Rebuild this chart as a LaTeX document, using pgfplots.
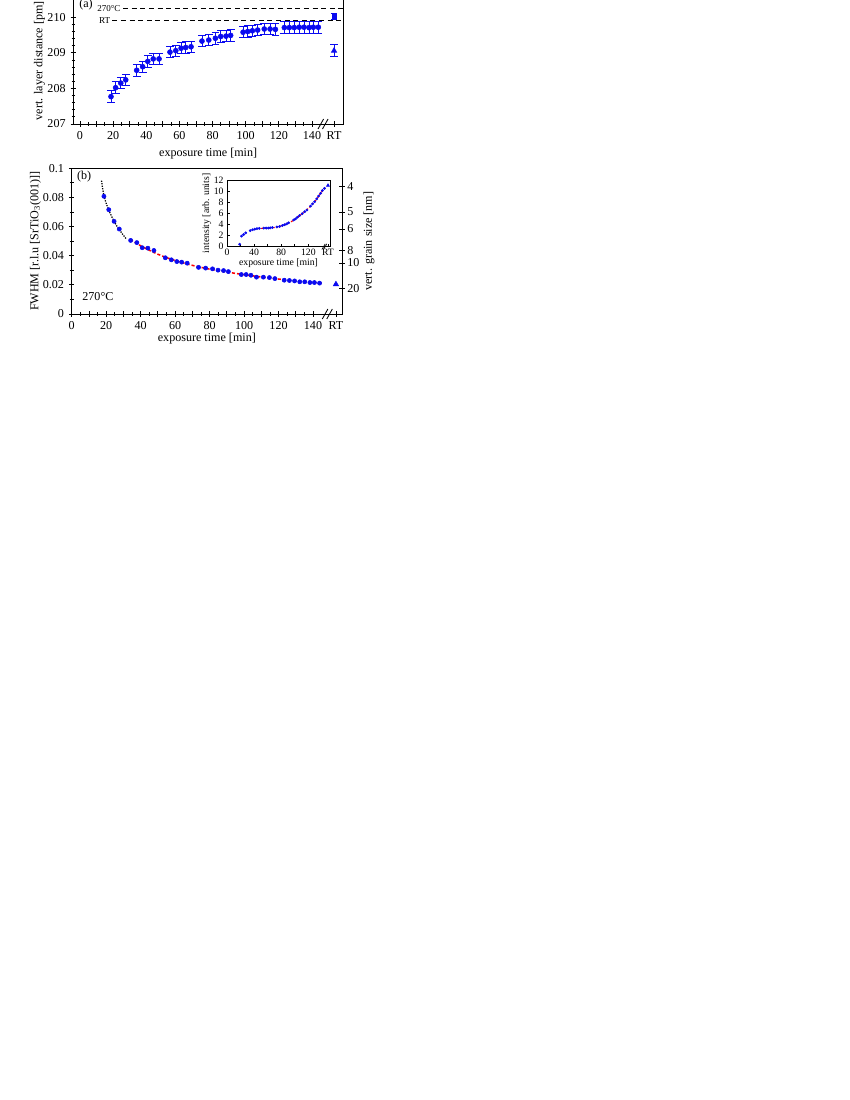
\documentclass[border=0pt]{standalone}
\usepackage{fontspec}
\setmainfont{Liberation Serif}
\usepackage{pgfplots}
\usepackage{pgfplotstable}
\pgfplotsset{compat=1.18}
\definecolor{myblue}{RGB}{10,10,240}

\pgfplotstableread{
t d e
18.7 207.77 0.17
21.5 208.02 0.17
24.6 208.15 0.16
27.6 208.24 0.16
34.2 208.51 0.16
37.8 208.61 0.16
40.9 208.76 0.16
44.2 208.83 0.16
47.7 208.83 0.16
54.3 209.02 0.16
57.8 209.06 0.16
61.0 209.13 0.16
63.8 209.15 0.16
67.0 209.17 0.16
73.6 209.33 0.16
77.7 209.36 0.16
81.7 209.41 0.16
84.9 209.46 0.16
88.1 209.47 0.16
90.9 209.49 0.16
98.4 209.58 0.16
101.2 209.60 0.16
104.0 209.62 0.16
107.2 209.64 0.16
111.2 209.67 0.16
114.7 209.67 0.16
117.9 209.66 0.16
123.3 209.71 0.16
126.3 209.71 0.16
129.3 209.71 0.16
132.3 209.72 0.16
135.2 209.72 0.16
138.2 209.71 0.16
140.8 209.72 0.16
143.8 209.72 0.16
}\layerdist

\pgfplotstableread{
t f
18.7 0.0808
21.5 0.0716
24.6 0.0636
27.6 0.0583
34.2 0.0505
37.8 0.0490
40.9 0.0455
44.2 0.0452
47.7 0.0436
54.3 0.0386
57.8 0.0372
61.0 0.0360
63.8 0.0356
67.0 0.0349
73.6 0.0320
77.7 0.0315
81.7 0.0310
84.9 0.0301
88.1 0.0298
90.9 0.0291
98.4 0.0271
101.2 0.0271
104.0 0.0266
107.2 0.0253
111.2 0.0253
114.7 0.0250
117.9 0.0243
123.3 0.0232
126.3 0.0230
129.3 0.0227
132.3 0.0221
135.2 0.0221
138.2 0.0216
140.8 0.0216
143.8 0.0212
}\fwhm

\pgfplotstableread{
t i
18.7 0.45
21.5 1.9
24.6 2.2
27.6 2.5
34.2 2.9
37.8 3.05
40.9 3.15
44.2 3.25
47.7 3.3
54.3 3.35
57.8 3.35
61.0 3.35
63.8 3.4
67.0 3.45
73.6 3.55
77.7 3.65
81.7 3.8
84.9 3.95
88.1 4.1
90.9 4.3
98.4 4.8
101.2 5.0
104.0 5.3
107.2 5.6
111.2 5.95
114.7 6.3
117.9 6.6
123.3 7.3
126.3 7.7
129.3 8.1
132.3 8.6
135.2 9.1
138.2 9.6
140.8 10.1
143.8 10.5
}\inten

\begin{document}
\begin{tikzpicture}
\useasboundingbox (0,0) rectangle (612pt,-792pt);
\pgfplotsset{
  every axis/.append style={
    font=\fontsize{8.7}{10}\selectfont,
    /pgf/number format/assume math mode=true,
    scale only axis,
    axis line style={line width=0.6pt},
    tick align=center,
    major tick length=4pt,
    minor tick length=2.6pt,
    every tick/.style={black, line width=0.6pt},
    xtick pos=bottom, ytick pos=left,
    clip=false,
  },
}
% ---------------- (a) ----------------
\begin{axis}[
  at={(52.78pt,-89.28pt)}, anchor=south west,
  width=194.18pt, height=90.94pt,
  xmin=-4.04, xmax=158.7, ymin=207, ymax=210.55,
  xtick={0,10,20,30,40,50,60,70,80,90,100,110,120,130,140,153.3},
  xticklabels={0,,20,,40,,60,,80,,100,,120,,140,RT},
  minor xtick={5,15,25,35,45,55,65,75,85,95,105,115,125,135},
  ytick={207,208,209,210},
  minor y tick num=4,
  xlabel={exposure time [min]},
  ylabel={vert. layer distance [pm]},
  xlabel style={yshift=1pt},
  ylabel style={yshift=-5pt},
]
\draw[line width=0.6pt, dash pattern=on 3.6pt off 2.6pt] (axis cs:26,210.25) -- (axis cs:158.7,210.25);
\draw[line width=0.6pt, dash pattern=on 3.6pt off 2.6pt] (axis cs:19.5,209.9) -- (axis cs:158.7,209.9);
\node[anchor=east, inner sep=0.5pt, font=\fontsize{6.5}{7}\selectfont] at (axis cs:25,210.25) {270°C};
\node[anchor=east, inner sep=0.5pt, font=\fontsize{6.5}{7}\selectfont] at (axis cs:18.8,209.9) {RT};
\node[font=\fontsize{8.7}{10}\selectfont] at (rel axis cs:0.047,0.945) {(a)};
\addplot[only marks, mark=*, mark size=1.8pt, color=myblue,
  error bars/.cd, y dir=both, y explicit,
  error bar style={line width=0.6pt, myblue},
  error mark options={rotate=90, mark size=2.8pt, line width=0.6pt, myblue}]
  table[x=t, y=d, y error=e] {\layerdist};
\addplot[only marks, mark=square*, mark size=1.4pt, color=myblue,
  error bars/.cd, y dir=both, y explicit,
  error bar style={line width=0.6pt, myblue},
  error mark options={rotate=90, mark size=2.2pt, line width=0.6pt, myblue}]
  coordinates {(153.3,210.02) +- (0,0.08)};
\addplot[only marks, mark=triangle*, mark size=2.2pt, color=myblue,
  error bars/.cd, y dir=both, y explicit,
  error bar style={line width=0.6pt, myblue},
  error mark options={rotate=90, mark size=2.6pt, line width=0.6pt, myblue}]
  coordinates {(153.3,209.06) +- (0,0.17)};
\draw[line width=0.6pt] (axis cs:145.3,207) ++(-2pt,-3.6pt) -- ++(4pt,7.2pt);
\draw[line width=0.6pt] (axis cs:148.0,207) ++(-2pt,-3.6pt) -- ++(4pt,7.2pt);
\end{axis}

% ---------------- (b) ----------------
\begin{axis}[
  at={(51.62pt,-226.08pt)}, anchor=south west,
  width=194.6pt, height=104.9pt,
  xmin=0, xmax=156.8, ymin=0, ymax=0.1,
  xtick={0,10,20,30,40,50,60,70,80,90,100,110,120,130,140,153.3},
  xticklabels={0,,20,,40,,60,,80,,100,,120,,140,RT},
  minor xtick={5,15,25,35,45,55,65,75,85,95,105,115,125,135},
  ytick={0,0.02,0.04,0.06,0.08,0.1},
  yticklabels={0,0.02,0.04,0.06,0.08,0.1},
  minor ytick={0.01,0.03,0.05,0.07,0.09},
  xlabel={exposure time [min]},
  ylabel={FWHM [r.l.u [SrTiO\textsubscript{3}(001)]]},
  xlabel style={yshift=4.5pt},
  ylabel style={yshift=-5.5pt},
]
\node[font=\fontsize{8.7}{10}\selectfont] at (rel axis cs:0.046,0.94) {(b)};
\node[font=\fontsize{8.7}{10}\selectfont] at (rel axis cs:0.097,0.119) {270°C};
\addplot[black, line width=0.9pt, dash pattern=on 0.9pt off 0.9pt, smooth]
  coordinates {(17.3,0.0915)(18,0.0858)(18.7,0.0815)(20,0.0760)(21.5,0.0714)(23,0.0674)(24.6,0.0637)(26,0.0607)(27.6,0.0580)(29.5,0.0548)(31.5,0.0518)};
\addplot[red, line width=1.1pt, dash pattern=on 2.2pt off 1.5pt, smooth]
  coordinates {(34,0.0512)(40,0.0468)(50,0.0410)(60,0.0367)(70,0.0334)(80,0.0308)(90,0.0288)(100,0.0270)(110,0.0254)(120,0.0240)(130,0.0228)(140,0.0217)(145,0.0212)};
\addplot[only marks, mark=*, mark size=1.5pt, color=myblue] table[x=t, y=f] {\fwhm};
\addplot[only marks, mark=triangle*, mark size=2.2pt, color=myblue] coordinates {(153.3,0.0204)};
\draw[line width=0.6pt] (axis cs:147.0,0) ++(-2pt,-3.6pt) -- ++(4pt,7.2pt);
\draw[line width=0.6pt] (axis cs:149.6,0) ++(-2pt,-3.6pt) -- ++(4pt,7.2pt);
\end{axis}
\begin{axis}[
  at={(51.62pt,-226.08pt)}, anchor=south west,
  width=194.6pt, height=104.9pt,
  xmin=0, xmax=156.8, ymin=0, ymax=0.1,
  axis x line=none, axis y line*=right,
  ytick pos=right, yticklabel pos=right,
  ytick={0.0175,0.035,0.04375,0.058333,0.07,0.0875},
  yticklabels={20,10,8,6,5,4},
  yticklabel style={xshift=-1.6pt},
  ylabel={vert. grain size [nm]}, ylabel near ticks,
  ylabel style={yshift=4pt},
]
\end{axis}

% ---------------- inset ----------------
\begin{axis}[
  at={(163.44pt,-177.62pt)}, anchor=south west,
  width=74.16pt, height=48.02pt,
  font=\fontsize{7}{8}\selectfont,
  axis background/.style={fill=white},
  xmin=0, xmax=152, ymin=0, ymax=12,
  tick align=inside, major tick length=2.2pt,
  axis line style={line width=0.5pt},
  every tick/.style={black, line width=0.5pt},
  xtick={0,20,40,60,80,100,120,149},
  xticklabels={0,,40,,80,,120,RT},
  ytick={0,2,4,6,8,10,12},
  xlabel={exposure time [min]},
  ylabel={intensity [arb. units]},
  xticklabel style={yshift=1.5pt},
  yticklabel style={xshift=1pt},
  xlabel style={yshift=5pt},
  ylabel style={yshift=-5pt},
]
\addplot[red, line width=0.8pt, dash pattern=on 1.6pt off 1.2pt, smooth]
  coordinates {(50,3.3)(60,3.35)(70,3.45)(80,3.75)(90,4.2)(100,4.9)(110,5.85)(120,6.9)(130,8.2)(140,9.9)(145,10.7)};
\addplot[only marks, mark=*, mark size=0.8pt, color=myblue] table[x=t, y=i] {\inten};
\addplot[only marks, mark=triangle*, mark size=1.3pt, color=myblue] coordinates {(149,11.0)};
\draw[line width=0.5pt] (axis cs:142.5,0) ++(-1.2pt,-2pt) -- ++(2.4pt,4pt);
\draw[line width=0.5pt] (axis cs:144.8,0) ++(-1.2pt,-2pt) -- ++(2.4pt,4pt);
\end{axis}
\end{tikzpicture}
\end{document}
